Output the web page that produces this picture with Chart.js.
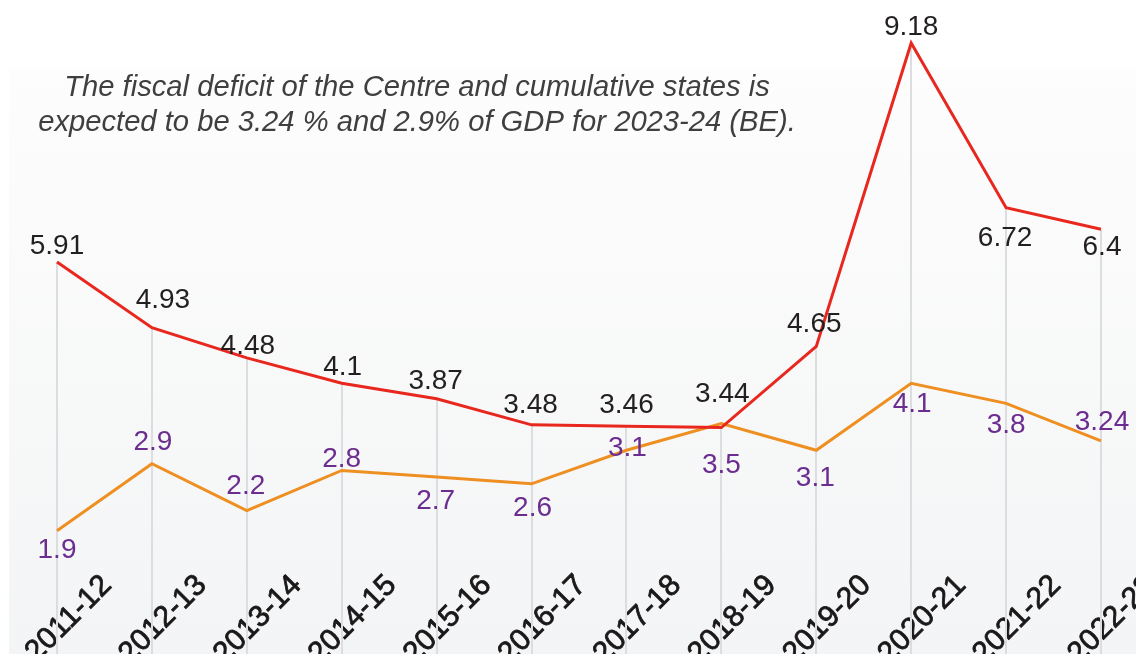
<!DOCTYPE html>
<html lang="en">
<head>
    <meta charset="UTF-8">
    <title>Fiscal deficit</title>
    <script src="https://cdnjs.cloudflare.com/ajax/libs/Chart.js/4.4.1/chart.umd.min.js"></script>
    <style>
        html, body { margin: 0; padding: 0; background: #fff; overflow: hidden; }
        .wrap { position: relative; width: 1136px; height: 680px; }
    </style>
</head>
<body>
    <div class="wrap">
        <canvas id="myChart"></canvas>
    </div>

    <script>
        // data
        const years = ['2011-12', '2012-13', '2013-14', '2014-15', '2015-16', '2016-17',
                       '2017-18', '2018-19', '2019-20', '2020-21', '2021-22', '2022-23'];
        const centre = [5.91, 4.93, 4.48, 4.1, 3.87, 3.48, 3.46, 3.44, 4.65, 9.18, 6.72, 6.4];
        const states = [1.9, 2.9, 2.2, 2.8, 2.7, 2.6, 3.1, 3.5, 3.1, 4.1, 3.8, 3.24];
        const noteLines = [
            'The fiscal deficit of the Centre and cumulative states is',
            'expected to be 3.24 % and 2.9% of GDP for 2023-24 (BE).'
        ];

        // where each value label sits relative to its point (px)
        const centreNudge = [[0, -16], [11, -27], [1, -12], [1, -16], [-1, -17], [-1, -20],
                             [0, -21], [1, -33], [-2, -22], [0, -16], [-1, 31], [1, 18]];
        const statesNudge = [[0, 20], [1, -21], [-1, -24], [0, -11], [-1, 24], [1, 24],
                             [1, -2], [0, 42], [-1, 28], [1, 21], [0, 22], [1, -19]];

        const FONT = '"Liberation Sans", Arial, sans-serif';

        const backdrop = {
            id: 'backdrop',
            beforeDraw(chart) {
                const ctx = chart.ctx;
                const g = ctx.createLinearGradient(0, 67, 0, chart.height);
                g.addColorStop(0, '#fdfdfd');
                g.addColorStop(1, '#f3f4f5');
                ctx.save();
                ctx.fillStyle = g;
                ctx.fillRect(9, 67, chart.width - 9, chart.height - 67);

                ctx.fillStyle = '#3f3f40';
                ctx.font = 'italic 29.2px ' + FONT;
                ctx.textAlign = 'center';
                ctx.textBaseline = 'alphabetic';
                ctx.fillText(noteLines[0], 417, 96);
                ctx.fillText(noteLines[1], 417, 131);
                ctx.restore();
            },
            beforeDatasetsDraw(chart) {
                // drop lines from the centre series down to the bottom
                const ctx = chart.ctx;
                const meta = chart.getDatasetMeta(0);
                ctx.save();
                ctx.strokeStyle = '#dcdde0';
                ctx.lineWidth = 2;
                meta.data.forEach(function (pt) {
                    ctx.beginPath();
                    ctx.moveTo(Math.round(pt.x), pt.y);
                    ctx.lineTo(Math.round(pt.x), chart.height);
                    ctx.stroke();
                });
                ctx.restore();
            }
        };

        const valueLabels = {
            id: 'valueLabels',
            afterDatasetsDraw(chart) {
                const ctx = chart.ctx;
                ctx.save();
                ctx.font = '28px ' + FONT;
                ctx.textAlign = 'center';
                ctx.textBaseline = 'middle';
                const sets = [[centre, centreNudge, '#231f20'], [states, statesNudge, '#6b2d8f']];
                sets.forEach(function (s, d) {
                    const meta = chart.getDatasetMeta(d);
                    ctx.fillStyle = s[2];
                    meta.data.forEach(function (pt, i) {
                        ctx.fillText(String(s[0][i]), pt.x + s[1][i][0], pt.y + s[1][i][1]);
                    });
                });
                ctx.restore();
            }
        };

        const ctx = document.getElementById('myChart');
        const myChart = new Chart(ctx, {
            type: 'line',
            data: {
                labels: years,
                datasets: [{
                    label: 'Centre',
                    data: centre,
                    borderColor: '#e8281e',
                    borderWidth: 3,
                    pointRadius: 0,
                    tension: 0
                }, {
                    label: 'States',
                    data: states,
                    borderColor: '#ee8f22',
                    borderWidth: 3,
                    pointRadius: 0,
                    tension: 0
                }]
            },
            options: {
                responsive: true,
                maintainAspectRatio: false,
                animation: false,
                layout: {
                    padding: { left: 57, right: 35, top: 20, bottom: 0 }
                },
                plugins: {
                    legend: { display: false },
                    tooltip: { enabled: false }
                },
                scales: {
                    x: {
                        offset: false,
                        grid: { display: false, drawTicks: false },
                        border: { display: false },
                        afterFit: function (scale) {
                            scale.height = 120;
                            scale.paddingLeft = 0;
                            scale.paddingRight = 0;
                        },
                        ticks: {
                            color: '#1a1718',
                            textStrokeColor: '#1a1718',
                            textStrokeWidth: 0.8,
                            font: { family: FONT, size: 30 },
                            minRotation: 45,
                            maxRotation: 45,
                            autoSkip: false,
                            labelOffset: 50,
                            padding: 8
                        }
                    },
                    y: {
                        display: false,
                        min: 1.4627,
                        max: 9.5224
                    }
                }
            },
            plugins: [backdrop, valueLabels]
        });
    </script>
</body>
</html>
